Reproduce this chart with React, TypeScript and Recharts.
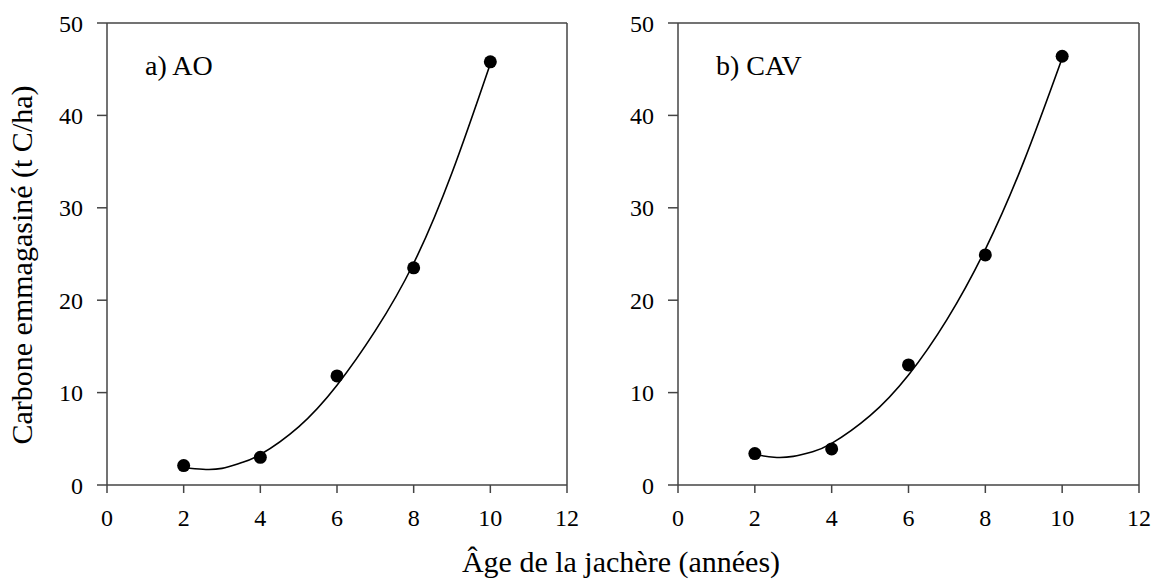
import React from 'react';
import { ComposedChart, Line, Scatter, XAxis, YAxis, ReferenceLine } from 'recharts';

const ages = [2, 4, 6, 8, 10];
const aoValues = [2.1, 3.0, 11.8, 23.5, 45.8];
const cavValues = [3.4, 3.9, 13.0, 24.9, 46.4];
const trendAges = [2, 2.5, 3, 3.5, 4, 5, 6, 7, 8, 9, 10];
const aoTrend = [1.9, 1.7, 1.8, 2.4, 3.3, 6.3, 10.8, 16.7, 24.0, 33.8, 45.6];
const cavTrend = [3.3, 3.0, 3.1, 3.6, 4.5, 7.5, 11.9, 17.9, 25.5, 35.0, 46.2];
const xTicks = [0, 2, 4, 6, 8, 10, 12];
const yTicks = [0, 10, 20, 30, 40, 50];
const panelLabels = ['a) AO', 'b) CAV'];
const xTitle = 'Âge de la jachère (années)';
const yTitle = 'Carbone emmagasiné (t C/ha)';

const FONT = '"Liberation Serif", "Times New Roman", serif';
const AXIS = '#444';

const toPoints = (xs: number[], ys: number[]) => xs.map((x, i) => ({ x, y: ys[i] }));

const Dot = (props: any) => {
  const { cx, cy } = props;
  if (cx == null || cy == null) return null;
  return <circle cx={cx} cy={cy} r={6.5} fill="#000" />;
};

type PanelProps = {
  left: number;
  width: number;
  marginLeft: number;
  marginRight: number;
  points: { x: number; y: number }[];
  trend: { x: number; y: number }[];
  label: string;
  labelX: number;
};

const Panel = ({ left, width, marginLeft, marginRight, points, trend, label, labelX }: PanelProps) => (
  <div style={{ position: 'absolute', left, top: 0, width, height: 584 }}>
    <ComposedChart
      width={width}
      height={584}
      margin={{ top: 23, right: marginRight, left: marginLeft, bottom: 69 }}
    >
      <XAxis
        type="number"
        dataKey="x"
        domain={[0, 12]}
        ticks={xTicks}
        allowDataOverflow
        height={30}
        tickSize={8}
        tickMargin={16}
        axisLine={{ stroke: AXIS, strokeWidth: 1.5 }}
        tickLine={{ stroke: AXIS, strokeWidth: 1.5 }}
        tick={{ fill: '#000', fontSize: 24, fontFamily: FONT }}
      />
      <YAxis
        type="number"
        dataKey="y"
        domain={[0, 50]}
        ticks={yTicks}
        allowDataOverflow
        width={60}
        tickSize={10}
        tickMargin={14}
        axisLine={{ stroke: AXIS, strokeWidth: 1.5 }}
        tickLine={{ stroke: AXIS, strokeWidth: 1.5 }}
        tick={{ fill: '#000', fontSize: 24, fontFamily: FONT }}
      />
      <ReferenceLine y={50} stroke={AXIS} strokeWidth={1.5} />
      <ReferenceLine x={12} stroke={AXIS} strokeWidth={1.5} />
      <Line
        data={trend}
        dataKey="y"
        type="natural"
        stroke="#000"
        strokeWidth={1.6}
        dot={false}
        activeDot={false}
        isAnimationActive={false}
      />
      <Scatter data={points} dataKey="y" shape={<Dot />} isAnimationActive={false} />
    </ComposedChart>
    <div
      style={{
        position: 'absolute',
        left: labelX,
        top: 48,
        fontFamily: FONT,
        fontSize: 28,
        color: '#000',
        whiteSpace: 'nowrap',
        lineHeight: '36px',
      }}
    >
      {label}
    </div>
  </div>
);

export default function App() {
  return (
    <div
      style={{
        position: 'absolute',
        left: 0,
        top: 0,
        width: 1156,
        height: 584,
        background: '#fff',
        overflow: 'hidden',
      }}
    >
      <Panel
        left={0}
        width={580}
        marginLeft={47}
        marginRight={13}
        points={toPoints(ages, aoValues)}
        trend={toPoints(trendAges, aoTrend)}
        label={panelLabels[0]}
        labelX={145}
      />
      <Panel
        left={580}
        width={576}
        marginLeft={38}
        marginRight={17}
        points={toPoints(ages, cavValues)}
        trend={toPoints(trendAges, cavTrend)}
        label={panelLabels[1]}
        labelX={136}
      />
      <svg
        width={1156}
        height={584}
        style={{ position: 'absolute', left: 0, top: 0, pointerEvents: 'none' }}
      >
        <text
          x={621}
          y={572}
          textAnchor="middle"
          fontFamily={FONT}
          fontSize={30}
          fill="#000"
        >
          {xTitle}
        </text>
        <text
          x={32}
          y={265}
          textAnchor="middle"
          fontFamily={FONT}
          fontSize={30}
          fill="#000"
          transform="rotate(-90 32 265)"
        >
          {yTitle}
        </text>
      </svg>
    </div>
  );
}
